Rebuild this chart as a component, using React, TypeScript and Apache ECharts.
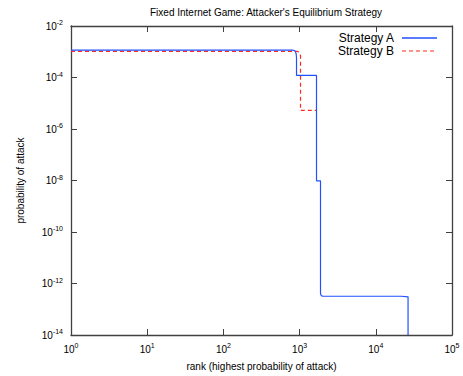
import React, { useEffect, useRef } from 'react';
import * as echarts from 'echarts';

const titleText = "Fixed Internet Game: Attacker's Equilibrium Strategy";
const xAxisName = 'rank (highest probability of attack)';
const yAxisName = 'probability of attack';
const seriesNames = ['Strategy A', 'Strategy B'];

// Strategy A (blue, solid)
const rankA = [1, 822, 870, 900, 911, 911, 1667, 1667, 1881, 1881, 1900, 1950, 2035, 21700, 21700, 26500, 26500];
const probA = [1.15e-3, 1.15e-3, 1.08e-3, 8.5e-4, 6e-4, 1.2e-4, 1.2e-4, 9.7e-9, 9.7e-9, 4.2e-13, 3.6e-13, 3.3e-13, 3.2e-13, 3.2e-13, 3.05e-13, 3.05e-13, 1e-14];

// Strategy B (red, dashed)
const rankB = [1, 948, 1000, 1028, 1028, 1667];
const probB = [1.03e-3, 1.03e-3, 9e-4, 7e-4, 5.3e-6, 5.3e-6];

const xMin = 1;
const xMax = 1e5;
const yMin = 1e-14;
const yMax = 1e-2;

const FONT = 'Liberation Sans, Arial, Helvetica, sans-serif';
const BLUE = '#2050ff';
const RED = '#ff2a1a';
const AXIS = '#404040';

const expLabel = (v: number) => {
  const e = Math.round(Math.log10(v));
  return '{b|10}{s|' + e + '}';
};

const rich = {
  b: { fontSize: 10, fontFamily: FONT, color: '#000' },
  s: { fontSize: 7, fontFamily: FONT, color: '#000', padding: [0, 0, 7, 0] },
};

export default function App() {
  const ref = useRef<HTMLDivElement>(null);
  useEffect(() => {
    if (!ref.current) return;
    const chart = echarts.init(ref.current, undefined, { renderer: 'svg' });
    const dataA = rankA.map((r, i) => [r, probA[i]]);
    const dataB = rankB.map((r, i) => [r, probB[i]]);
    const baseX = {
      type: 'log' as const,
      logBase: 10,
      min: xMin,
      max: xMax,
      interval: 1,
      splitLine: { show: false },
      minorTick: { show: false },
      axisLine: { show: true, lineStyle: { color: AXIS, width: 1.3 } },
      axisTick: { show: true, inside: true, length: 6, lineStyle: { color: AXIS } },
    };
    const baseY = {
      type: 'log' as const,
      logBase: 10,
      min: yMin,
      max: yMax,
      interval: 2,
      splitLine: { show: false },
      minorTick: { show: false },
      axisLine: { show: true, lineStyle: { color: AXIS, width: 1.3 } },
      axisTick: { show: true, inside: true, length: 6, lineStyle: { color: AXIS } },
    };
    chart.setOption({
      animation: false,
      backgroundColor: '#fff',
      title: {
        text: titleText,
        left: 261,
        top: 2,
        textAlign: 'center',
        textStyle: { fontSize: 10, fontWeight: 'normal', fontFamily: FONT, color: '#000' },
      },
      grid: { left: 71, right: 11, top: 26, bottom: 40, containLabel: false },
      xAxis: [
        {
          ...baseX,
          position: 'bottom',
          name: xAxisName,
          nameLocation: 'middle',
          nameGap: 26,
          nameTextStyle: { fontSize: 10, fontFamily: FONT, color: '#000' },
          axisLabel: { formatter: expLabel, rich, margin: 7 },
        },
        {
          ...baseX,
          position: 'top',
          axisLabel: { show: false },
        },
      ],
      yAxis: [
        {
          ...baseY,
          position: 'left',
          name: yAxisName,
          nameLocation: 'middle',
          nameGap: 46,
          nameTextStyle: { fontSize: 10, fontFamily: FONT, color: '#000' },
          axisLabel: { formatter: expLabel, rich, margin: 8 },
        },
        {
          ...baseY,
          position: 'right',
          axisLabel: { show: false },
        },
      ],
      series: [
        {
          name: seriesNames[0],
          type: 'line',
          xAxisIndex: 0,
          yAxisIndex: 0,
          data: dataA,
          showSymbol: false,
          symbol: 'none',
          clip: true,
          lineStyle: { color: BLUE, width: 1.2 },
          z: 3,
        },
        {
          name: seriesNames[1],
          type: 'line',
          xAxisIndex: 0,
          yAxisIndex: 0,
          data: dataB,
          showSymbol: false,
          symbol: 'none',
          clip: true,
          lineStyle: { color: RED, width: 1.2, type: [4, 3] },
          z: 2,
        },
      ],
      graphic: [
        {
          type: 'text',
          x: 394,
          y: 38,
          style: { text: seriesNames[0], fontSize: 12, fontFamily: FONT, fill: '#000', align: 'right', verticalAlign: 'middle' },
        },
        {
          type: 'line',
          shape: { x1: 402, y1: 38, x2: 437, y2: 38 },
          style: { stroke: BLUE, lineWidth: 1.5 },
        },
        {
          type: 'text',
          x: 394,
          y: 51,
          style: { text: seriesNames[1], fontSize: 12, fontFamily: FONT, fill: '#000', align: 'right', verticalAlign: 'middle' },
        },
        {
          type: 'line',
          shape: { x1: 402, y1: 51, x2: 437, y2: 51 },
          style: { stroke: RED, lineWidth: 1.2, lineDash: [4, 3] },
        },
      ],
    });
    return () => chart.dispose();
  }, []);
  return (
    <div
      ref={ref}
      style={{ position: 'fixed', left: 0, top: 0, width: 463, height: 376, background: '#fff' }}
    />
  );
}
